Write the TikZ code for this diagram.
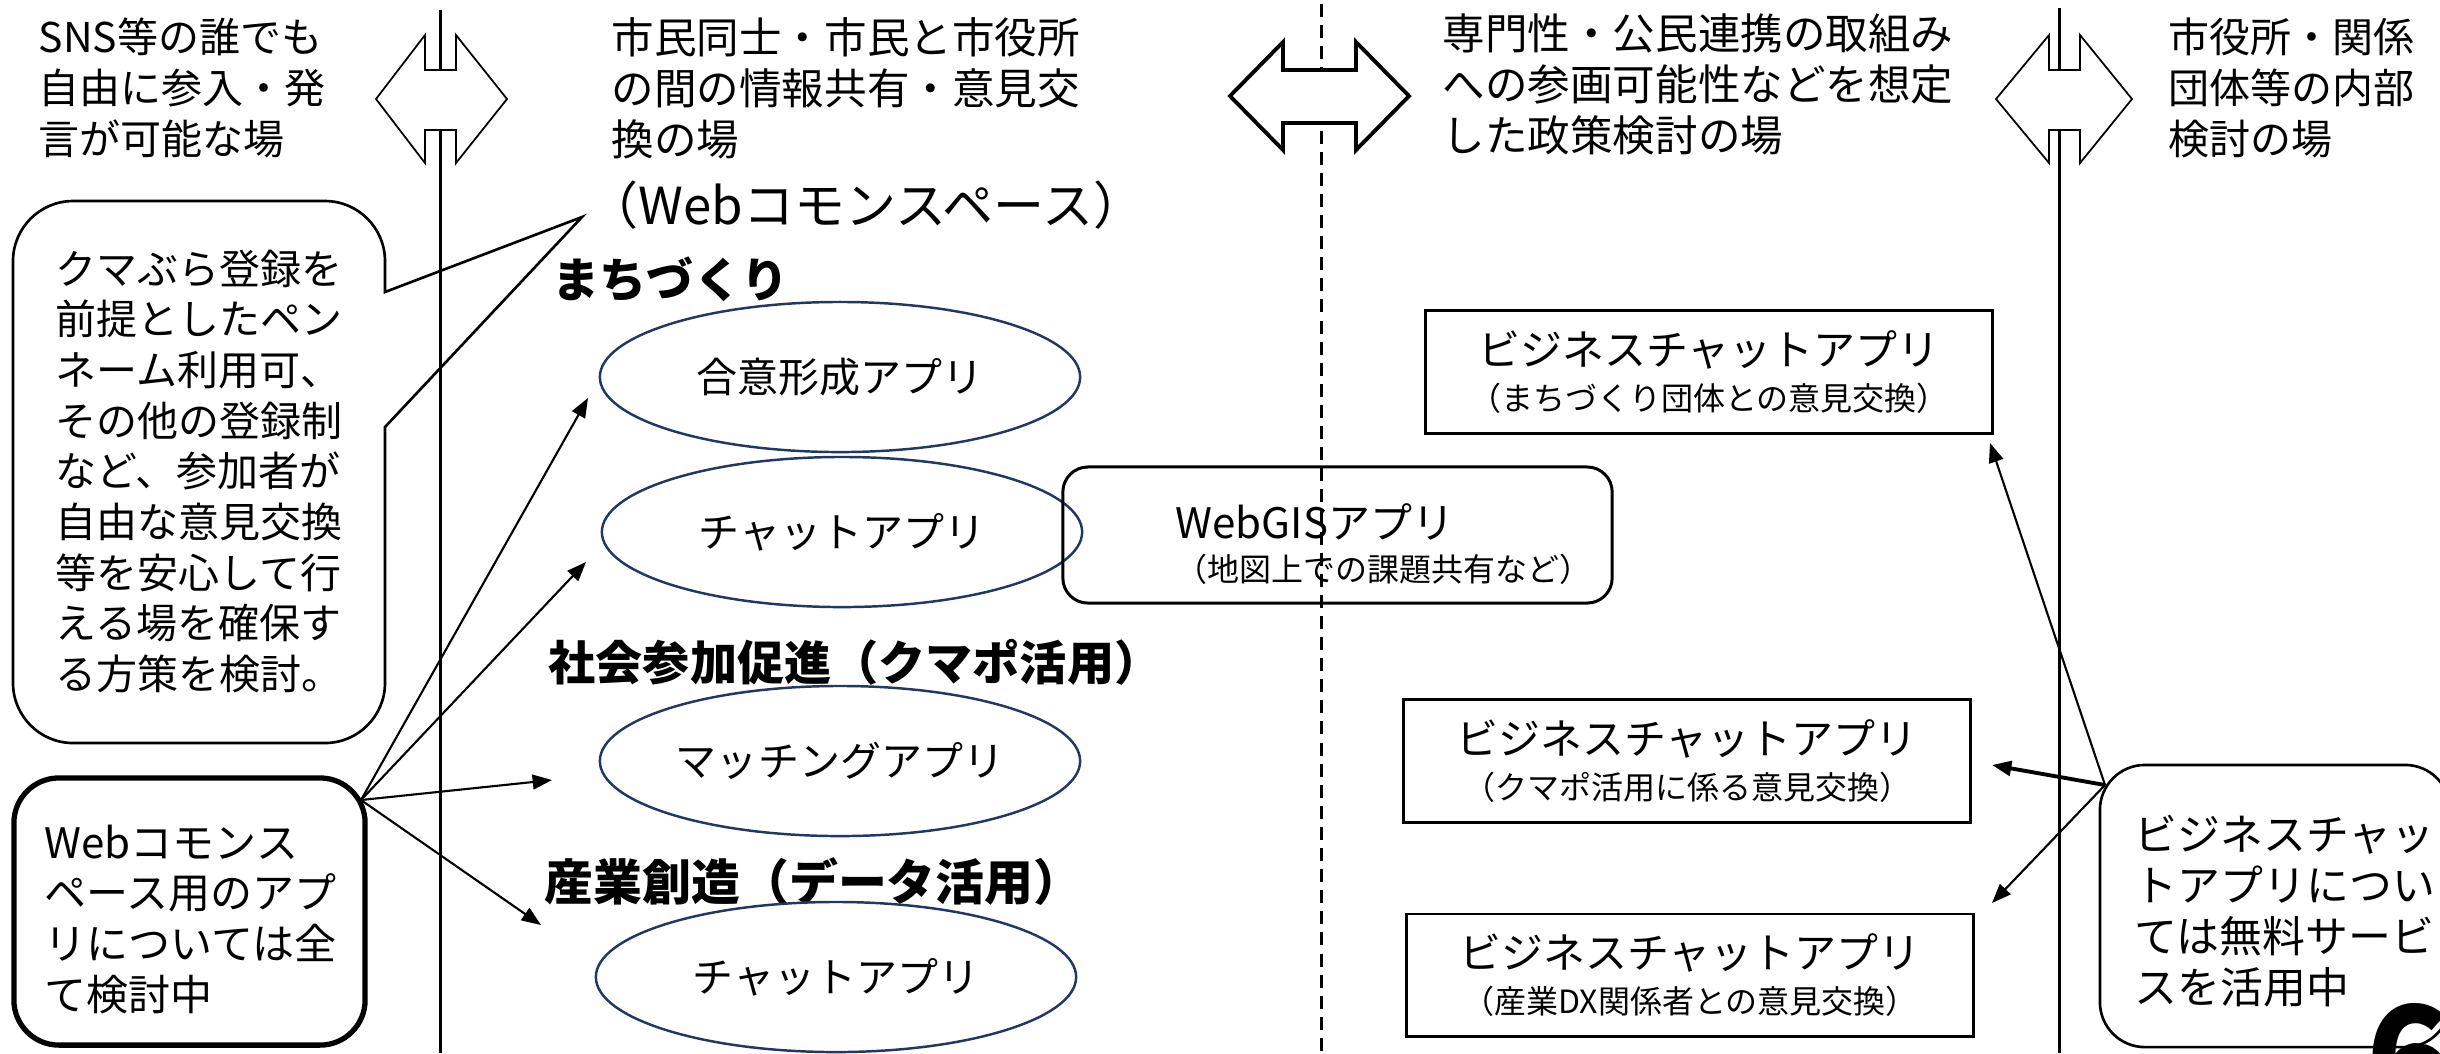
\documentclass[tikz,border=0pt]{standalone}
\usepackage{fontspec}
\setmainfont{Noto Sans CJK JP}
\usetikzlibrary{shapes.geometric,arrows.meta}
\definecolor{navy}{HTML}{203864}
\tikzset{
  txt/.style={inner sep=0pt, align=left, font=\fontsize{11.66}{14.5}\selectfont},
  head/.style={inner sep=0pt, anchor=west, font=\bfseries\fontsize{13.4}{15}\selectfont},
  app/.style={ellipse, draw=navy, line width=0.7pt, minimum width=4.8cm, minimum height=1.5cm, inner sep=0pt, font=\fontsize{11.66}{14}\selectfont},
  bizbox/.style={draw, line width=0.85pt, minimum width=5.66cm, minimum height=1.22cm, inner sep=0pt, align=center, font=\fontsize{11.95}{12.8}\selectfont},
  sep/.style={line width=0.85pt},
  dblthin/.style={draw, fill=white, line width=0.5pt, line join=miter},
  dblthick/.style={draw, fill=white, line width=1.1pt, line join=miter},
  arr/.style={-{Triangle[length=5.5pt,width=4.2pt]}, line width=0.6pt},
  callline/.style={line width=0.75pt, line join=miter},
}
\newcommand{\subf}{\fontsize{9.1}{12.8}\selectfont}
\begin{document}
\begin{tikzpicture}[x=0.01cm,y=-0.01cm]
\useasboundingbox (0,0) rectangle (2440,1053);
\fill[white] (0,0) rectangle (2440,1053);
\clip (0,0) rectangle (2440,1053);

% divider lines
\draw[sep] (440,10) -- (440,1053);
\draw[sep, dash pattern=on 3.7pt off 2.3pt] (1321,4) -- (1321,1053);
\draw[sep] (2059,8) -- (2059,1053);

% double arrows
\draw[dblthin] (376,99) -- (425,35) -- (425,70) -- (456,70) -- (456,35) -- (507,99) -- (456,163) -- (456,130) -- (425,130) -- (425,163) -- cycle;
\draw[dblthick] (1230,96) -- (1283,42) -- (1283,70) -- (1356,70) -- (1356,42) -- (1409,96) -- (1356,150) -- (1356,123) -- (1283,123) -- (1283,150) -- cycle;
\draw[dblthin] (1996,99) -- (2049,35) -- (2049,70) -- (2080,70) -- (2080,35) -- (2132,99) -- (2080,163) -- (2080,130) -- (2049,130) -- (2049,163) -- cycle;

% header texts
\node[txt, anchor=north west] (h1) at (38,17) {SNS等の誰でも\\自由に参入・発\\言が可能な場};
\node[txt, anchor=north west, font=\fontsize{12.1}{14.5}\selectfont] (h2) at (611,17) {市民同士・市民と市役所\\の間の情報共有・意見交\\換の場};
\node[txt, anchor=north west, font=\fontsize{12.1}{14.5}\selectfont] (h3) at (1442,13) {専門性・公民連携の取組み\\への参画可能性などを想定\\した政策検討の場};
\node[txt, anchor=north west] (h4) at (2168,17) {市役所・関係\\団体等の内部\\検討の場};
\node[inner sep=0pt, font=\fontsize{14.5}{16}\selectfont] (wcs) at (866,205) {（Webコモンスペース）};

% callout 1
\draw[callline] (385,292) -- (385,261) .. controls (385,228) and (358,201) .. (325,201) -- (73,201) .. controls (40,201) and (13,228) .. (13,261) -- (13,683) .. controls (13,716) and (40,743) .. (73,743) -- (325,743) .. controls (358,743) and (385,716) .. (385,683) -- (385,427) -- (582,217) -- cycle;
\node[txt, anchor=north west, font=\fontsize{11.66}{14.4}\selectfont] (c1) at (55,249) {クマぶら登録を\\前提としたペン\\ネーム利用可、\\その他の登録制\\など、参加者が\\自由な意見交換\\等を安心して行\\える場を確保す\\る方策を検討。};

% headings
\node[head] (m1) at (552,279) {まちづくり};
\node[head] (m2) at (548,662) {社会参加促進（クマポ活用）};
\node[head, font=\bfseries\fontsize{13.9}{15}\selectfont] (m3) at (544,882) {産業創造（データ活用）};

% ellipses
\node[app] (e1) at (840,377) {合意形成アプリ};
\node[app] (e2) at (842,532) {チャットアプリ};
\node[app] (e3) at (840,761) {マッチングアプリ};
\node[app] (e4) at (836,977) {チャットアプリ};

% WebGIS box
\node[draw, rounded corners=0.25cm, minimum width=5.49cm, minimum height=1.36cm, line width=0.85pt, inner sep=0pt] (gis) at (1337.5,535) {};
\node[inner sep=0pt, anchor=west, align=left, font=\fontsize{11.95}{12.2}\selectfont] (gist) at (1175,544) {WebGISアプリ\\{\fontsize{9.1}{12.2}\selectfont （地図上での課題共有など）}};

% business chat boxes
\node[bizbox] (b1) at (1709,372) {ビジネスチャットアプリ\\{\subf （まちづくり団体との意見交換）}};
\node[bizbox] (b2) at (1687,761) {ビジネスチャットアプリ\\{\subf （クマポ活用に係る意見交換）}};
\node[bizbox] (b3) at (1690,975) {ビジネスチャットアプリ\\{\subf （産業DX関係者との意見交換）}};

% callout 2
\node[draw, rounded corners=0.45cm, minimum width=3.5cm, minimum height=2.82cm, line width=0.75pt, inner sep=0pt] (c2box) at (2275,906) {};
\node[txt, anchor=north west, font=\fontsize{12.2}{14.5}\selectfont] (c2) at (2134,814) {ビジネスチャッ\\トアプリについ\\ては無料サービ\\スを活用中};

% callout 3
\node[draw, rounded corners=0.45cm, minimum width=3.51cm, minimum height=2.67cm, line width=1.5pt, inner sep=0pt] (c3box) at (189.5,911.5) {};
\node[txt, anchor=north west, font=\fontsize{11.95}{14.4}\selectfont] (c3) at (44,824) {Webコモンス\\ペース用のアプ\\リについては全\\て検討中};

% arrows from callout 3
\coordinate (s3) at (361,800);
\coordinate (t1) at (588,398);
\coordinate (t2) at (586,562);
\coordinate (t3) at (552,780);
\coordinate (t4) at (541,925);
\draw[arr] (s3) -- (t1);
\draw[arr] (s3) -- (t2);
\draw[arr] (s3) -- (t3);
\draw[arr] (s3) -- (t4);

% arrows from callout 2
\coordinate (s2) at (2105,785);
\coordinate (u1) at (1990,443);
\coordinate (u2) at (1992,765);
\coordinate (u3) at (1992,903);
\draw[arr] (s2) -- (u1);
\draw[arr, line width=1.1pt] (s2) -- (u2);
\draw[arr] (s2) -- (u3);

% page number
\node[inner sep=0pt, anchor=north west, font=\bfseries\fontsize{40}{40}\selectfont] (pg) at (2366,1003) {6};
\end{tikzpicture}
\end{document}
